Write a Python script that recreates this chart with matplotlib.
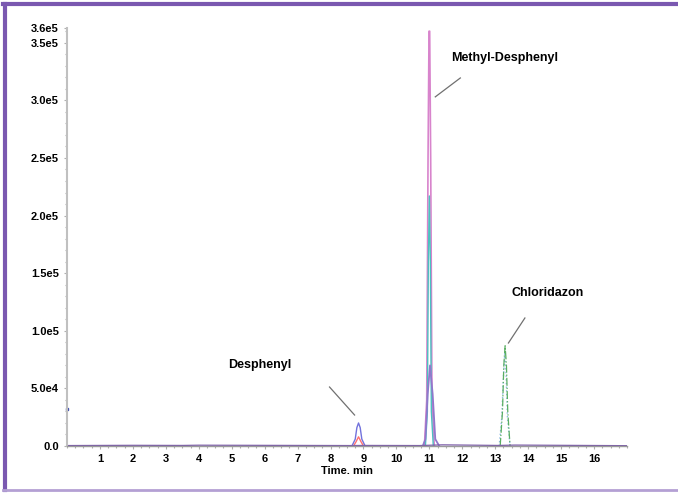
import matplotlib
matplotlib.use("Agg")
import matplotlib.pyplot as plt
from matplotlib.lines import Line2D
from matplotlib.ticker import MultipleLocator

# chromatogram traces: (time in min, intensity in counts)
baseline_t = [0.0, 2.0, 3.5, 4.0, 8.6, 9.1, 10.7, 11.4, 13.1, 13.6, 17.0]
baseline_y = [400, 600, 500, 700, 400, 500, 400, 1000, 500, 800, 300]

desphenyl_blue_t = [8.65, 8.75, 8.80, 8.85, 8.90, 8.95, 9.05]
desphenyl_blue_y = [0, 6000, 16000, 20000, 16000, 6000, 0]
desphenyl_red_t = [8.70, 8.78, 8.85, 8.92, 9.00]
desphenyl_red_y = [0, 4000, 8000, 4000, 0]

methyl_pink_t = [10.85, 10.92, 10.96, 10.99, 11.01, 11.04, 11.08, 11.15]
methyl_pink_y = [0, 40000, 250000, 360000, 360000, 250000, 40000, 0]
methyl_cyan_t = [10.88, 10.94, 10.97, 11.00, 11.03, 11.06, 11.12]
methyl_cyan_y = [0, 30000, 160000, 217000, 160000, 30000, 0]
methyl_purple_t = [10.80, 10.88, 10.95, 11.02, 11.10, 11.18, 11.30]
methyl_purple_y = [0, 6000, 45000, 70000, 45000, 6000, 0]

chlor_green_t = [13.15, 13.22, 13.26, 13.30, 13.34, 13.38, 13.45]
chlor_green_y = [0, 30000, 70000, 87000, 70000, 30000, 0]
chlor_blue_t = [13.12, 13.20, 13.25, 13.29, 13.33, 13.37, 13.45]
chlor_blue_y = [0, 25000, 62000, 80000, 62000, 25000, 0]

y_ticks = [0, 50000, 100000, 150000, 200000, 250000, 300000, 350000, 362800]
y_labels = ["0.0", "5.0e4", "1.0e5", "1.5e5", "2.0e5", "2.5e5", "3.0e5", "3.5e5", "3.6e5"]
x_ticks = list(range(1, 17))

# peak labels: text position and leader line (time, intensity)
labels = ["Desphenyl", "Methyl-Desphenyl", "Chloridazon"]
label_xy = [(4.88, 70300), (11.67, 336800), (13.5, 132800)]
leader_from = [(7.97, 51200), (11.94, 319400), (13.9, 111100)]
leader_to = [(8.73, 26900), (11.18, 303000), (13.4, 89400)]

plt.rcParams["font.family"] = ["Liberation Sans", "DejaVu Sans"]

fig = plt.figure(figsize=(6.78, 4.93), dpi=100)
ax = fig.add_axes([0.0988, 0.0953, 0.826, 0.848])

ax.plot(methyl_pink_t, methyl_pink_y, color="#d884cc", lw=1.2)
ax.plot(methyl_cyan_t, methyl_cyan_y, color="#4cc0c0", lw=1.0)
ax.plot(methyl_purple_t, methyl_purple_y, color="#9078cc", lw=1.3)
ax.plot(chlor_blue_t, chlor_blue_y, color="#90bce4", lw=1.0, ls=":")
ax.plot(chlor_green_t, chlor_green_y, color="#5aae62", lw=0.9, ls="-.")
ax.plot(desphenyl_blue_t, desphenyl_blue_y, color="#7272dc", lw=1.0)
ax.plot(desphenyl_red_t, desphenyl_red_y, color="#ff7070", lw=1.0)
ax.plot(baseline_t, baseline_y, color="#7a5aa8", lw=0.9)
ax.plot([0.0], [32100], marker="s", ms=2, color="#4050b0", clip_on=False)

for text, xy, p0, p1 in zip(labels, label_xy, leader_from, leader_to):
    ax.text(xy[0], xy[1], text, fontsize=9, fontweight="bold", va="center", ha="left")
    ax.plot([p0[0], p1[0]], [p0[1], p1[1]], color="#707070", lw=0.9)

ax.set_xlim(0, 17)
ax.set_ylim(0, 362800)
ax.set_xticks(x_ticks)
ax.set_xticklabels([str(t) for t in x_ticks])
ax.set_yticks(y_ticks)
ax.set_yticklabels(y_labels)
ax.xaxis.set_minor_locator(MultipleLocator(0.25))
ax.yaxis.set_minor_locator(MultipleLocator(10000))
ax.tick_params(which="both", color="#b0b0b0", labelsize=8, length=2.5, width=0.8)
ax.tick_params(which="minor", length=1.5)
for lab in ax.get_xticklabels() + ax.get_yticklabels():
    lab.set_fontweight("bold")
ax.set_xlabel("Time. min", fontsize=8, fontweight="bold", labelpad=1)

for side in ["top", "right"]:
    ax.spines[side].set_visible(False)
ax.spines["left"].set_color("#c0c0c0")
ax.spines["left"].set_linewidth(1.5)
ax.spines["bottom"].set_color("#9a9a9a")
ax.spines["bottom"].set_linewidth(1.0)

# purple frame around the figure
fig.add_artist(Line2D([0.007, 0.007], [0.006, 0.992], transform=fig.transFigure, color="#7a58b0", lw=3))
fig.add_artist(Line2D([0.005, 1.0], [0.992, 0.992], transform=fig.transFigure, color="#7a58b0", lw=3))
fig.add_artist(Line2D([0.005, 1.0], [0.006, 0.006], transform=fig.transFigure, color="#b4a0d4", lw=2))

fig.savefig("out.png", dpi=100)
